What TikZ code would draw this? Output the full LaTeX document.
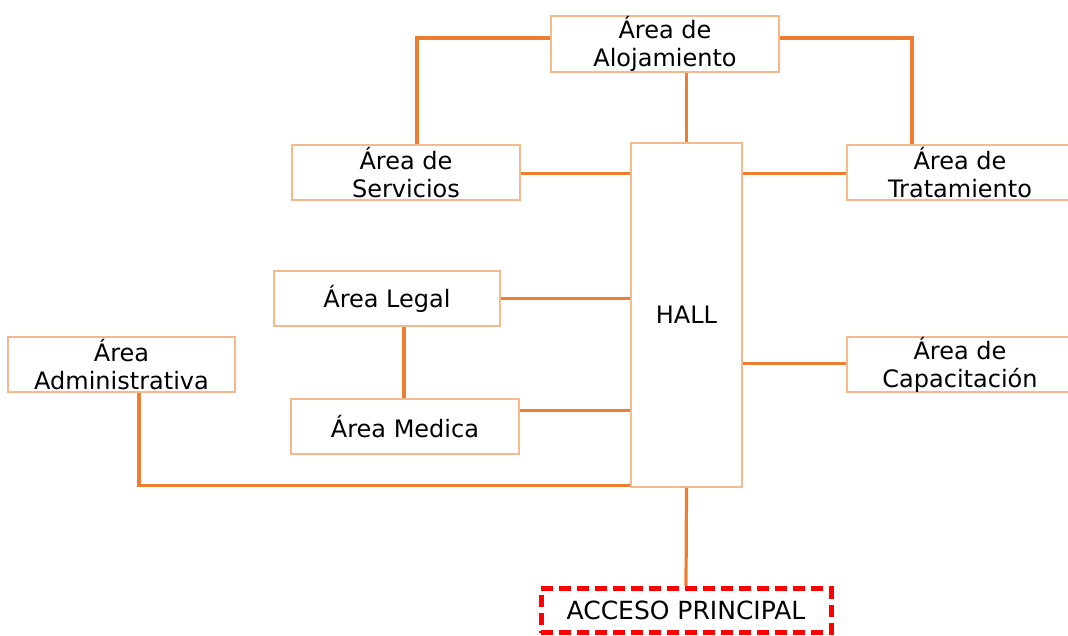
\documentclass[tikz,border=0pt]{standalone}
\usepackage{fontspec}
\setmainfont{DejaVu Sans}
\definecolor{boxline}{HTML}{F6B98C}
\definecolor{conn}{HTML}{ED7D31}
\definecolor{accred}{HTML}{FF0000}
\begin{document}
\begin{tikzpicture}[x=1pt,y=-1pt,
  area/.style={draw=boxline,line width=1.5pt,rectangle,align=center,inner sep=0pt,
    font=\fontsize{24}{28}\selectfont,text=black},
  link/.style={draw=conn,line width=3.2pt}]
\useasboundingbox (0,0) rectangle (1068,635);
\begin{scope}
\clip (0,0) rectangle (1068,635);
\node[area,minimum width=228pt,minimum height=56pt] (aloj) at (665,44) {Área de\\Alojamiento};
\node[area,minimum width=111pt,minimum height=344pt] (hall) at (686.5,315) {HALL};
\node[area,minimum width=228pt,minimum height=55pt] (serv) at (406,172.5) {Área de\\Servicios};
\node[area,minimum width=226pt,minimum height=55pt] (trat) at (960,172.5) {Área de\\Tratamiento};
\node[area,minimum width=226pt,minimum height=55pt] (legal) at (387,298.5) {Área Legal};
\node[area,minimum width=227pt,minimum height=55pt] (admin) at (121.5,364.5) {Área\\Administrativa};
\node[area,minimum width=228pt,minimum height=55pt] (med) at (405,426.5) {Área Medica};
\node[area,minimum width=226pt,minimum height=55pt] (cap) at (960,364.5) {Área de\\Capacitación};
\node[draw=accred,line width=5pt,dash pattern=on 12pt off 6pt,rectangle,inner sep=0pt,
  minimum width=290pt,minimum height=44pt,font=\fontsize{25}{28}\selectfont] (acc) at (686,610.5) {ACCESO PRINCIPAL};
\end{scope}
\draw[link] ([yshift=6pt]aloj.west) -| ([xshift=11pt]serv.north);
\draw[link] ([yshift=6pt]aloj.east) -| ([xshift=-48pt]trat.north);
\draw[link] (hall.north) -- (hall.north |- aloj.south);
\draw[link] ([yshift=-1pt]serv.east) -- ([yshift=-1pt]serv.east -| hall.west);
\draw[link] ([yshift=-1pt]trat.west -| hall.east) -- ([yshift=-1pt]trat.west);
\draw[link] (legal.east) -- (legal.east -| hall.west);
\draw[link] ([xshift=17pt]legal.south) -- ([xshift=17pt]legal.south |- med.north);
\draw[link] ([yshift=16pt]med.east) -- ([yshift=16pt]med.east -| hall.west);
\draw[link] ([yshift=1pt]cap.west -| hall.east) -- ([yshift=1pt]cap.west);
\draw[link] ([xshift=17.5pt]admin.south) |- ([yshift=2pt]hall.south west);
\draw[link] (hall.south) -- (acc.north);
\end{tikzpicture}
\end{document}
